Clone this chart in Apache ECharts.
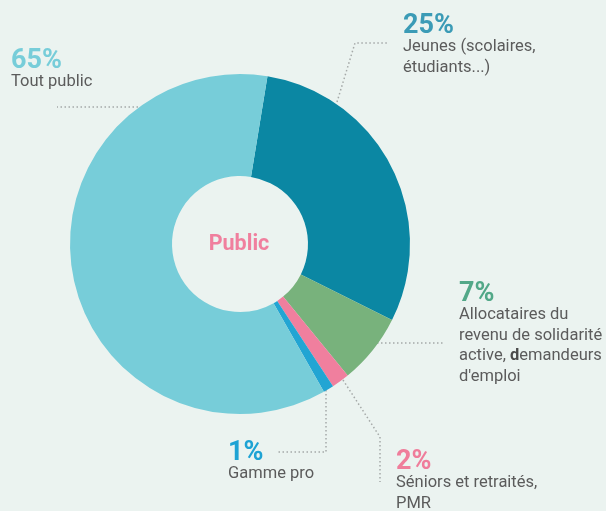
<!DOCTYPE html>
<html>
<head>
<meta charset="utf-8">
<script src="https://cdn.jsdelivr.net/npm/echarts@6/dist/echarts.min.js"></script>
<style>
html, body { margin: 0; padding: 0; background: #ebf3f0; }
#chart { width: 606px; height: 511px; }
</style>
</head>
<body>
<div id="chart"></div>
<script>
// slices, clockwise from the top
let categories = ['Jeunes', 'Allocataires', 'Séniors', 'Gamme pro', 'Tout public']
let values = [29.8, 6.7, 1.7, 1.0, 60.8]
let pctLabels = ['25%', '7%', '2%', '1%', '65%']
let labelLines = [
	['Jeunes (scolaires,', 'étudiants...)'],
	['Allocataires du', 'revenu de solidarité', '{t|active, }{b|d}{t|emandeurs}', 'd\'emploi'],
	['Séniors et retraités,', 'PMR'],
	['Gamme pro'],
	['Tout public']
]

let sliceColor = ['#0b87a3', '#78b27c', '#f07f9e', '#22a5d3', '#77cdd9']
let pctColor = ['#3b9bb6', '#52a888', '#ef7d9b', '#1ea3d4', '#77cdd9']

// label boxes and leader lines
let labelPos = [
	{ x: 403, y: 15, line: [[337, 102], [355, 43], [389, 43]] },
	{ x: 459, y: 283, line: [[377, 343], [410, 343], [444, 343]] },
	{ x: 396, y: 451, line: [[343, 380], [380, 437], [380, 482]] },
	{ x: 228, y: 442, line: [[326, 390], [326, 452], [277, 452]] },
	{ x: 11, y: 50, line: [[138, 107], [100, 107], [57, 107]] }
]

let chart = echarts.init(document.getElementById('chart'))

let seriesData = categories.map(function(name, i) {
	return {
		name: name,
		value: values[i],
		itemStyle: { color: sliceColor[i] },
		label: {
			formatter: '{p|' + pctLabels[i] + '}\n' + labelLines[i].map(function(s) {
				return s.charAt(0) === '{' ? s : '{t|' + s + '}'
			}).join('\n'),
			rich: {
				p: { fontSize: 27, fontWeight: 'bold', color: pctColor[i], lineHeight: 22, fontFamily: 'Roboto' }
			}
		}
	}
})

chart.setOption({
	backgroundColor: '#ebf3f0',
	graphic: [{
		type: 'text',
		x: 239,
		y: 245,
		style: {
			text: 'Public',
			align: 'center',
			verticalAlign: 'middle',
			fill: '#f07f9e',
			fontSize: 21.5,
			fontWeight: 'bold',
			fontFamily: 'Roboto'
		}
	}],
	series: [{
		type: 'pie',
		center: [240, 244],
		radius: [68, 170],
		startAngle: 80.7,
		clockwise: true,
		avoidLabelOverlap: false,
		silent: true,
		emphasis: { disabled: true },
		data: seriesData,
		label: {
			show: true,
			position: 'outside',
			align: 'left',
			fontFamily: 'Roboto',
			rich: {
				t: { fontSize: 16.5, color: '#5b5b5b', lineHeight: 20.5, fontFamily: 'Roboto' },
				b: { fontSize: 16.5, color: '#4a4a4a', lineHeight: 20.5, fontWeight: 'bold', fontFamily: 'Roboto' }
			}
		},
		labelLine: {
			show: true,
			lineStyle: { color: '#a5a9a8', width: 1.5, type: [1.5, 2.5] }
		},
		labelLayout: function(params) {
			let p = labelPos[params.dataIndex]
			return {
				x: p.x,
				y: p.y,
				align: 'left',
				verticalAlign: 'top',
				labelLinePoints: p.line
			}
		}
	}]
})
</script>
</body>
</html>
